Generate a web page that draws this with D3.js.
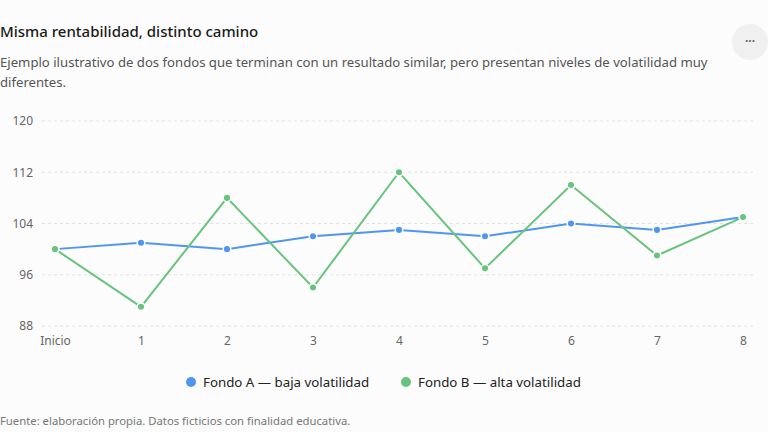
<!DOCTYPE html>
<html><head><meta charset="utf-8">
<script src="https://cdn.jsdelivr.net/npm/d3@7"></script>
<style>
html,body{margin:0;padding:0;background:#fcfcfc;}
svg{display:block;font-family:"Noto Sans","Open Sans",sans-serif;}
</style></head>
<body><svg id="c" width="768" height="432"></svg>
<script>
const categories = ["Inicio","1","2","3","4","5","6","7","8"];
const fondoA = [100,101,100,102,103,102,104,103,105];
const fondoB = [100,91,108,94,112,97,110,99,105];
const yTicks = [88,96,104,112,120];
const seriesNames = ["Fondo A — baja volatilidad","Fondo B — alta volatilidad"];
const seriesColors = ["#4f96f2","#68c47c"];

const svg = d3.select("#c");
svg.append("rect").attr("width",768).attr("height",432).attr("fill","#fcfcfc");

svg.append("text").attr("x",0).attr("y",37).attr("font-size",15).attr("font-weight",500).attr("fill","#1a1a1a").text("Misma rentabilidad, distinto camino");
svg.append("text").attr("x",0).attr("y",67).attr("font-size",13.15).attr("fill","#555").text("Ejemplo ilustrativo de dos fondos que terminan con un resultado similar, pero presentan niveles de volatilidad muy");
svg.append("text").attr("x",0).attr("y",87).attr("font-size",13.15).attr("fill","#555").text("diferentes.");

svg.append("circle").attr("cx",750).attr("cy",42).attr("r",18).attr("fill","#f0f0f0");
svg.append("text").attr("x",750).attr("y",45).attr("text-anchor","middle").attr("font-size",12).attr("font-weight",700).attr("fill","#666").text("···");

const x = d3.scalePoint().domain(categories).range([55,743]);
const y = d3.scaleLinear().domain([88,120]).range([326,121]);

const grid = svg.append("g");
yTicks.forEach(t=>{
  grid.append("line").attr("x1",42).attr("x2",755).attr("y1",y(t)).attr("y2",y(t))
    .attr("stroke","#e2e2e2").attr("stroke-dasharray","3,3");
});

const yAxis = d3.axisLeft(y).tickValues(yTicks).tickSize(0).tickPadding(0);
const gy = svg.append("g").attr("transform","translate(33,0)").call(yAxis);
gy.select(".domain").remove();
gy.selectAll("text").attr("font-size",12).attr("fill","#666").attr("font-family","Noto Sans, sans-serif");

const xAxis = d3.axisBottom(x).tickSize(0).tickPadding(0);
const gx = svg.append("g").attr("transform","translate(0,336)").call(xAxis);
gx.select(".domain").remove();
gx.selectAll("text").attr("font-size",12).attr("fill","#666").attr("font-family","Noto Sans, sans-serif");

const line = d3.line().x((d,i)=>x(categories[i])).y(d=>y(d));
[fondoA,fondoB].forEach((s,k)=>{
  svg.append("path").datum(s).attr("d",line).attr("fill","none").attr("stroke",seriesColors[k]).attr("stroke-width",2);
});
[fondoA,fondoB].forEach((s,k)=>{
  svg.append("g").selectAll("circle").data(s).join("circle")
    .attr("cx",(d,i)=>x(categories[i])).attr("cy",d=>y(d)).attr("r",3.8)
    .attr("fill",seriesColors[k]).attr("stroke","#fff").attr("stroke-width",1.5);
});

const legX = [191,406];
seriesNames.forEach((n,k)=>{
  svg.append("circle").attr("cx",legX[k]).attr("cy",382).attr("r",5).attr("fill",seriesColors[k]);
  svg.append("text").attr("x",legX[k]+12).attr("y",387).attr("font-size",13.3).attr("fill","#222").text(n);
});

svg.append("text").attr("x",0).attr("y",425).attr("font-size",11.3).attr("fill","#777").text("Fuente: elaboración propia. Datos ficticios con finalidad educativa.");
</script></body></html>
